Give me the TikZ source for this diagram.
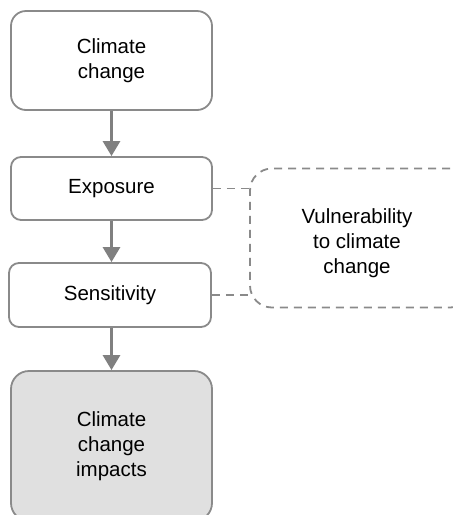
\documentclass[tikz,border=0pt]{standalone}
\usepackage{fontspec}
\setmainfont{Liberation Sans}
\usetikzlibrary{arrows.meta}
\definecolor{linegray}{HTML}{8A8A8A}
\definecolor{arrowgray}{HTML}{808080}
\definecolor{fillgray}{HTML}{E0E0E0}
\begin{document}
\begin{tikzpicture}[x=1pt,y=-1pt,
  txt/.style={font=\fontsize{20.5}{25}\selectfont, text=black, align=center},
  box/.style={draw=linegray, line width=1.8pt, align=center, inner sep=0pt, txt},
  flow/.style={draw=arrowgray, line width=3pt, -{Triangle[width=17pt,length=15pt]}},
  dashlink/.style={draw=linegray, line width=1.8pt, dash pattern=on 8pt off 6pt}]
\useasboundingbox (0,0) rectangle (453,515);
\clip (0,0) rectangle (453,515);
\node[box, rounded corners=15pt, minimum width=201pt, minimum height=99pt] (cc) at (111.5,60.5) {Climate\\change};
\node[box, rounded corners=10pt, minimum width=201pt, minimum height=63pt] (exp) at (111.5,188.5) {Exposure};
\node[box, rounded corners=10pt, minimum width=202pt, minimum height=64pt] (sens) at (110,295) {Sensitivity};
\node[box, rounded corners=18pt, fill=fillgray, minimum width=201pt, minimum height=150pt] (imp) at (111.5,446) {Climate\\change\\impacts};
\node[box, rounded corners=22pt, dash pattern=on 8pt off 6pt, minimum width=222pt, minimum height=139pt,
  label={[txt, xshift=-4pt, yshift=-5pt]center:Vulnerability\\to climate\\change}] (vul) at (361,238) {};
\draw[flow] (cc.south) -- (cc.south |- exp.north);
\draw[flow] (exp.south) -- (exp.south |- sens.north);
\draw[flow] (exp.south |- sens.south) -- (exp.south |- imp.north);
\draw[dashlink] (exp.east) -- (exp.east -| vul.west);
\draw[dashlink] (sens.east) -- (sens.east -| vul.west);
\end{tikzpicture}
\end{document}
